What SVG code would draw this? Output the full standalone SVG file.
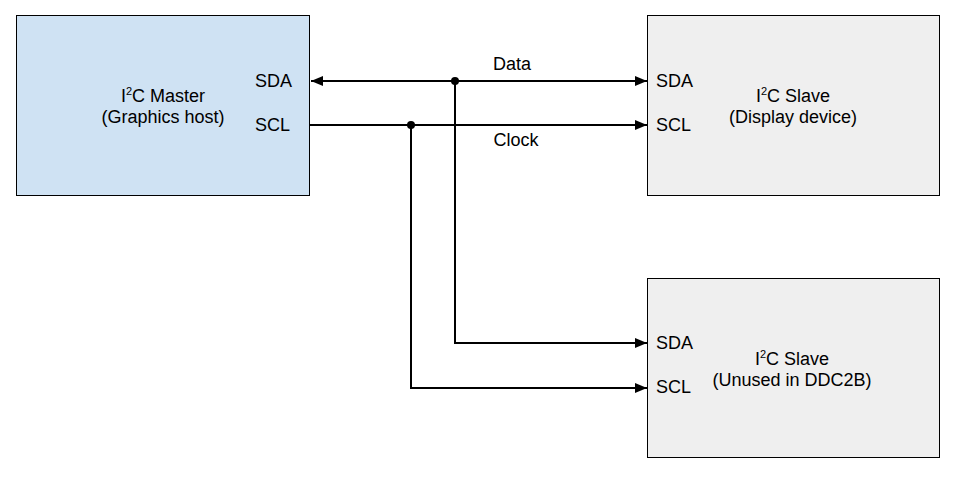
<svg xmlns="http://www.w3.org/2000/svg" width="956" height="480" viewBox="0 0 956 480">
<defs>
<marker id="arr" viewBox="0 0 12 10" refX="12" refY="5" markerWidth="12" markerHeight="10" markerUnits="userSpaceOnUse" orient="auto-start-reverse">
<path d="M0,0 L12,5 L0,10 Z" fill="#000"/>
</marker>
<style>
text{font-family:"Liberation Sans",Arial,sans-serif;font-size:18px;fill:#000}
.c{text-anchor:middle}
.sup{font-size:11px}
.box{stroke:#000;stroke-width:1}
.w{fill:none;stroke:#000;stroke-width:2}
</style>
</defs>
<rect width="956" height="480" fill="#fff"/>
<g id="master">
<rect class="box" x="16.5" y="15.5" width="293" height="180" fill="#cfe2f3"/>
<text class="c" x="163" y="102">I<tspan class="sup" dy="-7">2</tspan><tspan dy="7">C Master</tspan></text>
<text class="c" x="163" y="123">(Graphics host)</text>
<text x="255" y="87">SDA</text>
<text x="255" y="131">SCL</text>
</g>
<g id="slave1">
<rect class="box" x="647.5" y="15.5" width="292" height="180" fill="#efefef"/>
<text class="c" x="793" y="102">I<tspan class="sup" dy="-7">2</tspan><tspan dy="7">C Slave</tspan></text>
<text class="c" x="793" y="123">(Display device)</text>
<text x="656" y="87">SDA</text>
<text x="656" y="131">SCL</text>
</g>
<g id="slave2">
<rect class="box" x="647.5" y="278.5" width="292" height="179" fill="#efefef"/>
<text class="c" x="792" y="365">I<tspan class="sup" dy="-7">2</tspan><tspan dy="7">C Slave</tspan></text>
<text class="c" x="792" y="386">(Unused in DDC2B)</text>
<text x="656" y="349">SDA</text>
<text x="656" y="393">SCL</text>
</g>
<g id="connectors">
<line class="w" x1="311" y1="81" x2="647" y2="81" marker-start="url(#arr)" marker-end="url(#arr)"/>
<line class="w" x1="310" y1="125" x2="647" y2="125" marker-end="url(#arr)"/>
<polyline class="w" points="455,81 455,343 647,343" marker-end="url(#arr)"/>
<polyline class="w" points="411,125 411,388 647,388" marker-end="url(#arr)"/>
<circle cx="455" cy="81" r="4" fill="#000"/>
<circle cx="411" cy="125" r="4" fill="#000"/>
<text class="c" x="512" y="70">Data</text>
<text class="c" x="516" y="146">Clock</text>
</g>
</svg>
